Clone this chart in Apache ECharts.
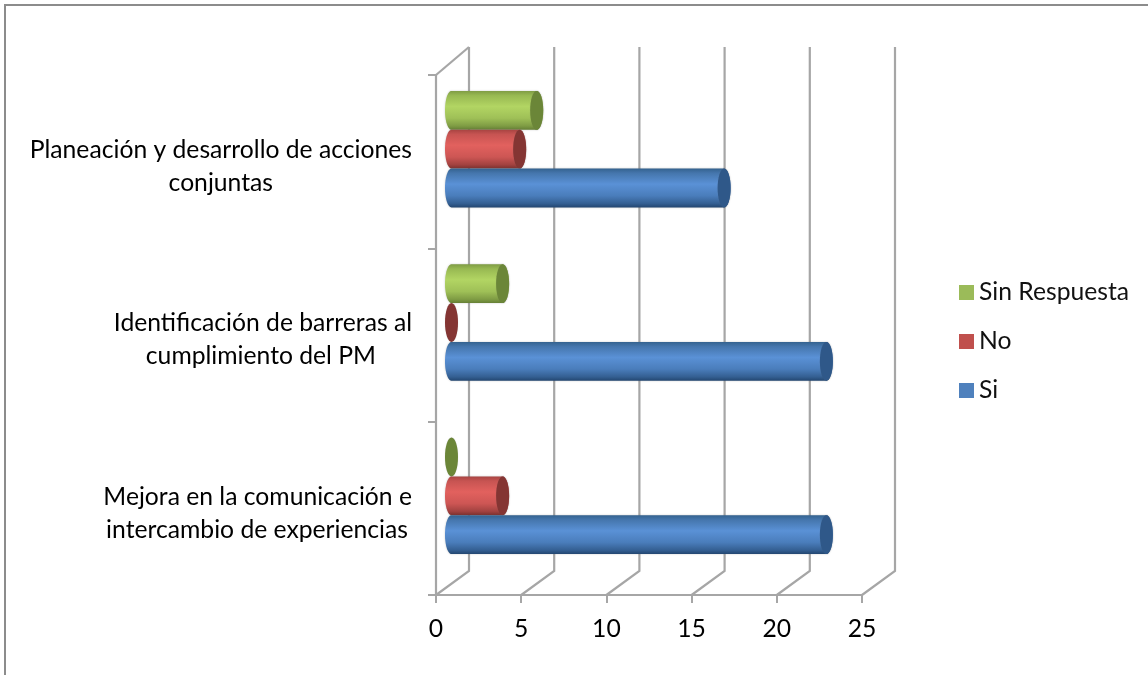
<!DOCTYPE html>
<html>
<head>
<meta charset="utf-8">
<style>html,body{margin:0;padding:0;background:#fff}#c{width:1148px;height:675px}</style>
<script src="https://cdn.jsdelivr.net/npm/echarts@6/dist/echarts.min.js"></script>
</head>
<body>
<div id="c"></div>
<script>
const categories = [
  'Mejora en la comunicación e\nintercambio de experiencias',
  'Identificación de barreras al\ncumplimiento del PM',
  'Planeación y desarrollo de acciones\nconjuntas'
];
const si = [22, 22, 16];
const no = [3, 0, 4];
const sinRespuesta = [0, 3, 5];
const xTicks = [0, 5, 10, 15, 20, 25];

const FONT = 'Lato';
const FS = 24.7;
const DEPTH_X = 33, DEPTH_Y = 24, TOP_Y = 28;
const MID_X = 15.5, MID_Y = -12.5;
const RX = 6.5;
const GREY = '#a6a6a6';

function grad(stops) {
  return new echarts.graphic.LinearGradient(0, 0, 0, 1,
    stops.map((c, i) => ({ offset: [0, 0.12, 0.4, 0.7, 0.9, 1][i], color: c })));
}
function ellipsePts(cx, cy, rx, ry, a0, a1) {
  const p = [];
  for (let i = 0; i <= 32; i++) {
    const a = a0 + (a1 - a0) * i / 32;
    p.push([cx + rx * Math.cos(a), cy + ry * Math.sin(a)]);
  }
  return p;
}
function cylinder(slot, body, cap) {
  return function (params, api) {
    const v = api.value(0), c = api.value(1);
    const band = api.size([0, 1])[1];
    const h = band * 0.224, ry = h / 2;
    const zero = api.coord([0, c]), end = api.coord([v, c]);
    const y = zero[1] + MID_Y + slot * h;
    const x0 = zero[0] + MID_X, x1 = end[0] + MID_X;
    const children = [];
    if (v > 0) {
      const pts = ellipsePts(x0, y, RX, ry, Math.PI / 2, Math.PI * 1.5)
        .concat(ellipsePts(x1, y, RX, ry, -Math.PI / 2, Math.PI / 2));
      children.push({ type: 'polygon', shape: { points: pts }, style: { fill: grad(body), shadowBlur: 2, shadowColor: 'rgba(90,90,90,0.35)' } });
    }
    children.push({
      type: 'polygon',
      shape: { points: ellipsePts(x1, y, RX, ry, 0, Math.PI * 2) },
      style: { fill: cap, shadowBlur: 1, shadowColor: 'rgba(90,90,90,0.3)' }
    });
    return { type: 'group', children };
  };
}
function walls(params, api) {
  const v = api.value(0), cs = params.coordSys;
  const bottom = cs.y + cs.height;
  const x = api.coord([v, 0])[0];
  const style = { stroke: GREY, lineWidth: 2.2, fill: 'none' };
  const children = [{
    type: 'polyline',
    shape: { points: [[x, bottom], [x + DEPTH_X, bottom - DEPTH_Y], [x + DEPTH_X, cs.y - TOP_Y]] },
    style
  }];
  if (v === 0) {
    children.push({ type: 'line', shape: { x1: x, y1: cs.y, x2: x + DEPTH_X, y2: cs.y - TOP_Y }, style });
  }
  return { type: 'group', children };
}
const toPairs = arr => arr.map((v, i) => [v, i]);
const richLine = right => ({ fontFamily: FONT, fontSize: FS, lineHeight: 33, color: '#000', padding: [0, right, 0, 0] });

const chart = echarts.init(document.getElementById('c'), null, { renderer: 'canvas' });
chart.setOption({
  animation: false,
  backgroundColor: '#fff',
  textStyle: { fontFamily: FONT },
  graphic: [
    { type: 'polyline', silent: true, shape: { points: [[5, 680], [5, 5], [1150, 5]] },
      style: { stroke: '#8c8c8c', lineWidth: 2, fill: 'none' } }
  ],
  grid: { left: 436, right: 286, top: 75, bottom: 80, containLabel: false },
  legend: {
    orient: 'vertical', left: 954, top: 273, icon: 'rect',
    itemWidth: 15, itemHeight: 15, itemGap: 20,
    data: ['Sin Respuesta', 'No', 'Si'],
    textStyle: { fontFamily: FONT, fontSize: FS, color: '#111', lineHeight: 29 }
  },
  xAxis: {
    type: 'value', min: 0, max: 25, interval: 5,
    splitLine: { show: false },
    axisLine: { show: true, lineStyle: { color: GREY, width: 2.2 } },
    axisTick: { show: true, length: 8, lineStyle: { color: GREY, width: 2 } },
    axisLabel: { fontFamily: FONT, fontSize: FS, color: '#000', margin: 22, customValues: xTicks }
  },
  yAxis: {
    type: 'category', data: categories,
    axisLine: { show: true, lineStyle: { color: GREY, width: 2.2 } },
    axisTick: { show: true, length: 8, alignWithLabel: false, lineStyle: { color: GREY, width: 2 } },
    axisLabel: {
      fontFamily: FONT, fontSize: FS, color: '#000', margin: 24, align: 'right', lineHeight: 33,
      padding: [10, 0, 0, 0],
      formatter: (val, i) => {
        const [a, b] = val.split('\n');
        return '{a' + i + '|' + a + '}\n{b' + i + '|' + b + '}';
      },
      rich: {
        a0: richLine(0), b0: richLine(4),
        a1: richLine(0), b1: richLine(36),
        a2: richLine(0), b2: richLine(139)
      }
    }
  },
  series: [
    { type: 'custom', name: 'walls', silent: true, z: 1, clip: false, renderItem: walls,
      encode: { x: 0, y: 1 }, data: xTicks.map(t => [t, 0]) },
    { type: 'custom', name: 'Sin Respuesta', z: 3, clip: false, itemStyle: { color: '#9BBB59' },
      renderItem: cylinder(-1, ['#7f9c44', '#98b952', '#b2d563', '#9fc057', '#7f9c44', '#657f35'], '#6b8638'),
      encode: { x: 0, y: 1 }, data: toPairs(sinRespuesta) },
    { type: 'custom', name: 'No', z: 3, clip: false, itemStyle: { color: '#C0504D' },
      renderItem: cylinder(0, ['#a84442', '#c75452', '#e2615e', '#cd5654', '#a24240', '#7c2f2d'], '#843533'),
      encode: { x: 0, y: 1 }, data: toPairs(no) },
    { type: 'custom', name: 'Si', z: 3, clip: false, itemStyle: { color: '#4F81BD' },
      renderItem: cylinder(1, ['#34628f', '#4576ad', '#5a91d6', '#4a7dbb', '#345f92', '#234670'], '#2f5889'),
      encode: { x: 0, y: 1 }, data: toPairs(si) }
  ]
});
</script>
</body>
</html>
